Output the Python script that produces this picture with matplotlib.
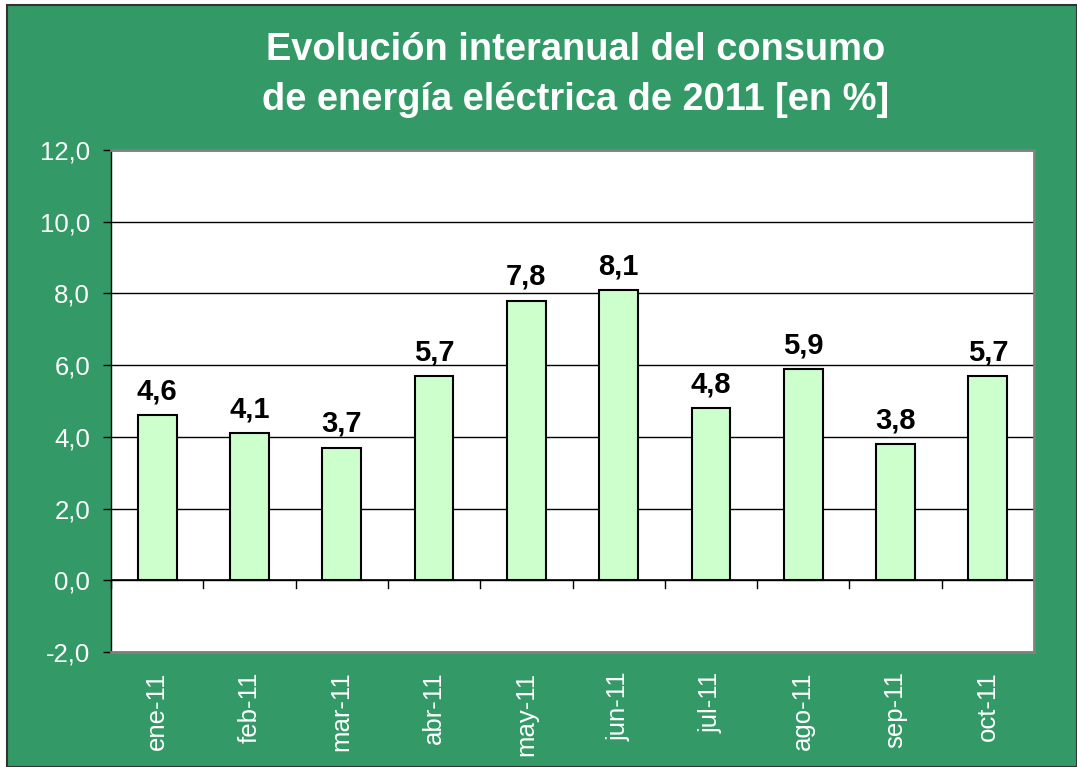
import numpy as np
import matplotlib.pyplot as plt
from matplotlib.patches import Rectangle

meses = ['ene-11', 'feb-11', 'mar-11', 'abr-11', 'may-11', 'jun-11',
         'jul-11', 'ago-11', 'sep-11', 'oct-11']
valores = [4.6, 4.1, 3.7, 5.7, 7.8, 8.1, 4.8, 5.9, 3.8, 5.7]
y_ticks = [-2, 0, 2, 4, 6, 8, 10, 12]

verde = '#339966'
plt.rcParams['font.family'] = ['Liberation Sans', 'DejaVu Sans']

fig = plt.figure(figsize=(10.77, 7.67), dpi=100)
fig.patch.set_facecolor('white')
# fondo verde con borde oscuro
fig.patches.append(Rectangle((7 / 1077, 0), 1 - 7 / 1077, 1 - 5 / 767,
                             transform=fig.transFigure, facecolor=verde,
                             edgecolor='#333333', linewidth=1.5, zorder=-5))

ax = fig.add_axes([111 / 1077, 1 - 652 / 767, (1034 - 111) / 1077, (652 - 150) / 767])
ax.set_facecolor('white')

x = np.arange(len(meses))
ax.bar(x, valores, width=0.42, color='#CCFFCC', edgecolor='black', linewidth=1.5, zorder=3)

for xi, v in zip(x, valores):
    ax.annotate(f'{v:.1f}'.replace('.', ','), (xi, v), xytext=(0, 7),
                textcoords='offset points', ha='center', va='bottom',
                fontsize=21, fontweight='bold', color='black', zorder=4)

ax.set_ylim(-2, 12)
ax.set_xlim(-0.5, len(meses) - 0.5)
ax.set_yticks(y_ticks)
ax.set_yticklabels([f'{t:.1f}'.replace('.', ',') for t in y_ticks],
                   color='white', fontsize=18.5)
ax.yaxis.grid(True, color='black', linewidth=1)
ax.set_axisbelow(True)
ax.tick_params(axis='y', direction='out', length=6, width=1, color='black', pad=9)

# etiquetas del eje x
ax.set_xticks(x)
ax.set_xticklabels(meses, rotation=90, color='white', fontsize=18.5)
ax.tick_params(axis='x', length=0, pad=14)
# marcas entre categorias sobre la linea de cero
for xb in np.arange(len(meses) + 1) - 0.5:
    ax.plot([xb, xb], [0, -0.22], color='black', linewidth=1, zorder=2, clip_on=False)
ax.axhline(0, color='black', linewidth=1.2, zorder=2)

for s in ['top', 'right', 'bottom']:
    ax.spines[s].set_color('#808080')
    ax.spines[s].set_linewidth(2)
ax.spines['left'].set_color('black')
ax.spines['left'].set_linewidth(1)

fig.text(576 / 1077, 1 - 75 / 767,
         'Evolución interanual del consumo\nde energía eléctrica de 2011 [en %]',
         ha='center', va='center', color='white', fontsize=27.4,
         fontweight='bold', linespacing=1.5)

fig.savefig('out.png', dpi=100, facecolor=fig.get_facecolor())
